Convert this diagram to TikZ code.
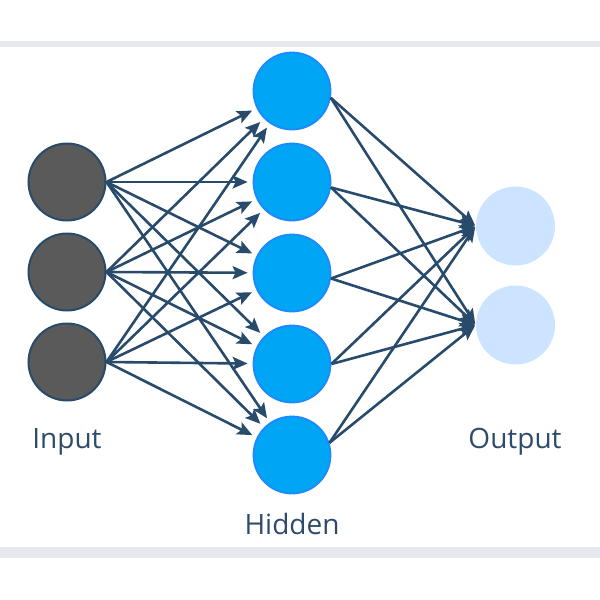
\documentclass[tikz,border=0pt]{standalone}
\usepackage{fontspec}
\setmainfont{Open Sans}
\usetikzlibrary{arrows.meta}
\definecolor{bandc}{HTML}{E7E8ED}
\definecolor{inpfill}{HTML}{5A5A5A}
\definecolor{edgec}{HTML}{284A6B}
\definecolor{hidfill}{HTML}{00A6F4}
\definecolor{hidbord}{HTML}{1E88FF}
\definecolor{outfill}{HTML}{CCE4FF}
\definecolor{txtc}{HTML}{2E4B6B}
\tikzset{
  inpnode/.style={circle, minimum size=77pt, inner sep=0pt, fill=inpfill, draw=edgec, line width=2pt},
  hidnode/.style={circle, minimum size=77pt, inner sep=0pt, fill=hidfill, draw=hidbord, line width=1.8pt},
  outnode/.style={circle, minimum size=79pt, inner sep=0pt, fill=outfill},
  conn/.style={draw=edgec, line width=2.6pt, -{Stealth[length=15pt,width=13pt,inset=3pt]}},
  lbl/.style={text=txtc, font=\fontsize{28}{32}\selectfont, inner sep=0pt, anchor=base}
}
\begin{document}
\begin{tikzpicture}[x=1pt,y=-1pt]
\useasboundingbox (0,0) rectangle (600,600);
\fill[bandc] (0,41) rectangle (600,47);
\fill[bandc] (0,547) rectangle (600,558);
\node[inpnode] (i1) at (67,182) {};
\node[inpnode] (i2) at (67,272) {};
\node[inpnode] (i3) at (67,362) {};
\node[hidnode] (h1) at (292,91) {};
\node[hidnode] (h2) at (292,182) {};
\node[hidnode] (h3) at (292,273) {};
\node[hidnode] (h4) at (292,364) {};
\node[hidnode] (h5) at (292,455) {};
\node[outnode] (o1) at (515.5,226) {};
\node[outnode] (o2) at (515.5,325) {};
\foreach \i in {i1,i2,i3}{
  \foreach \h in {h1,h2,h3,h4,h5}{
    \draw[conn, shorten >=5pt] (\i.east) -- (\h);
  }
}
\foreach \h/\a in {h1/-10,h2/-8,h3/-8,h4/0,h5/18}{
  \foreach \o in {o1,o2}{
    \draw[conn, shorten >=1pt] (\h.\a) -- (\o.west);
  }
}
\node[lbl] (tin) at (67,448) {Input};
\node[lbl] (thid) at (292,534) {Hidden};
\node[lbl] (tout) at (515,448) {Output};
\end{tikzpicture}
\end{document}
